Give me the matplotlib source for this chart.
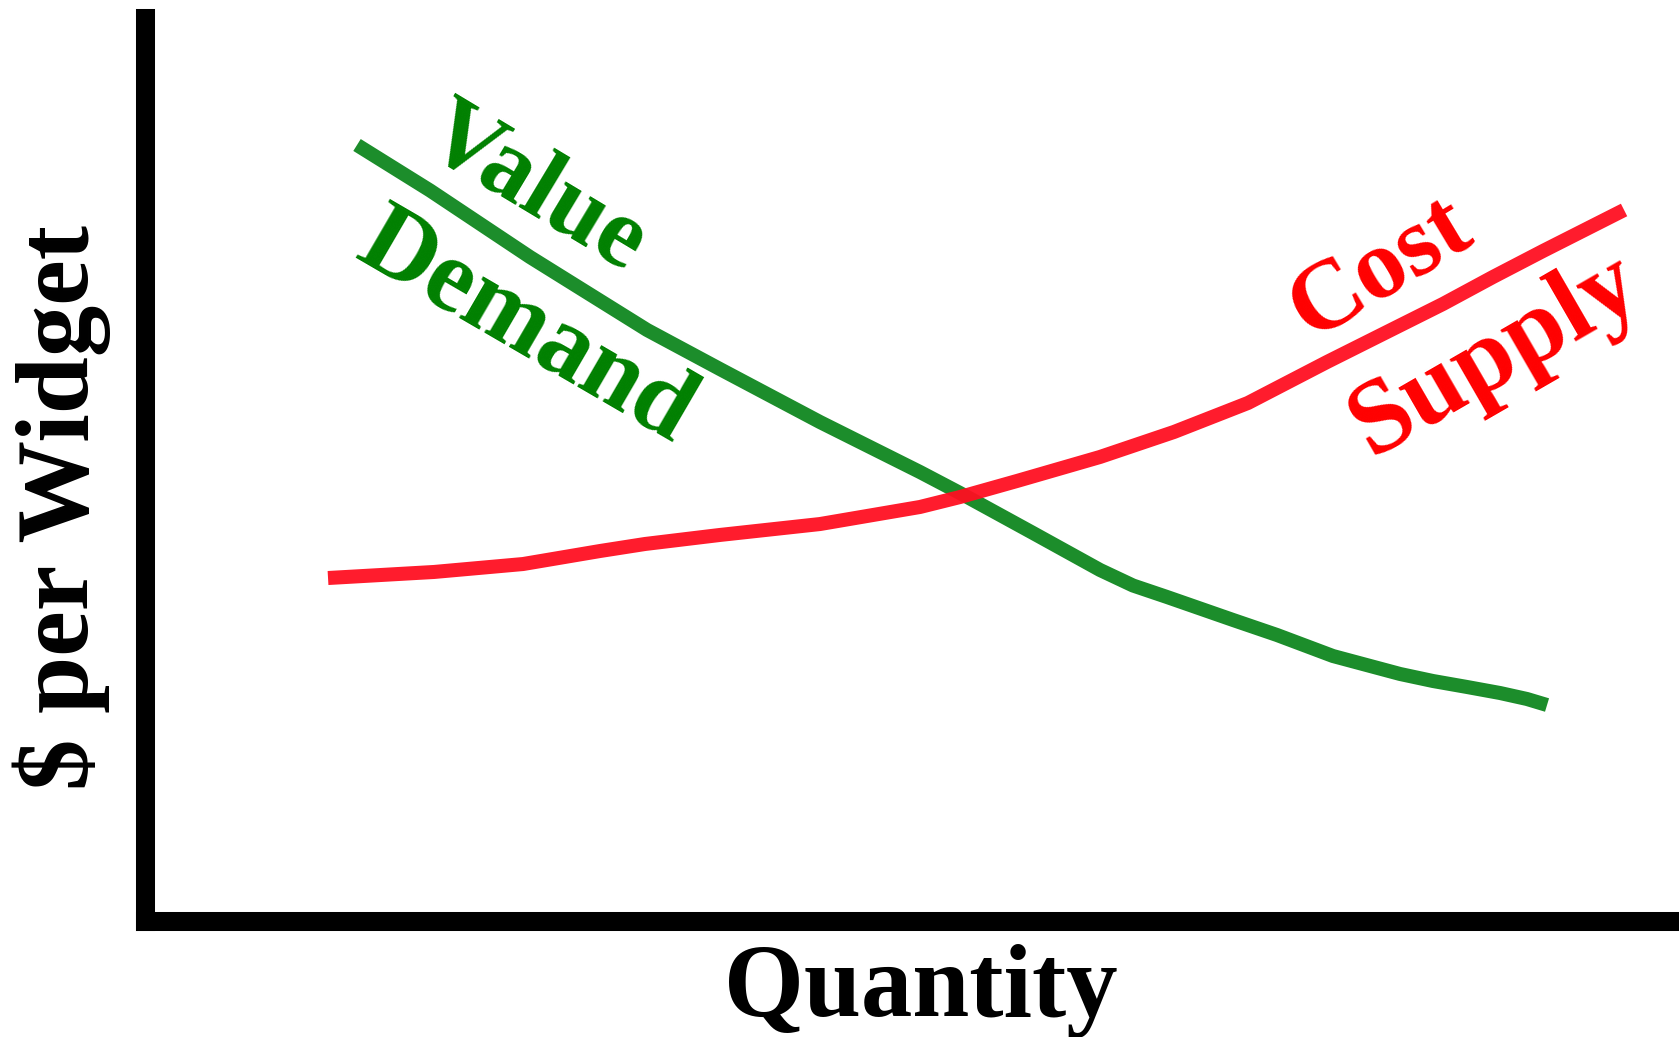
import matplotlib
matplotlib.use("Agg")
import matplotlib.pyplot as plt

# ---- data (axes units: 0-100 on both axes) ----
demand_x = [13.85, 18.61, 25.12, 32.75, 37.50, 44.02, 50.54, 53.14, 57.90, 62.27,
            64.42, 66.63, 70.94, 73.80, 77.45, 81.82, 83.97, 86.18, 88.34, 90.09, 91.40]
demand_y = [85.91, 80.87, 73.50, 65.42, 61.09, 55.22, 49.68, 47.36, 42.93, 38.83,
            37.11, 35.84, 33.29, 31.63, 29.30, 27.31, 26.53, 25.87, 25.20, 24.54, 23.87]

supply_x = [11.96, 18.87, 24.67, 29.68, 32.62, 37.50, 44.02, 50.54, 53.14, 56.86,
            62.27, 67.09, 71.91, 77.06, 81.49, 84.62, 87.88, 91.14, 96.42]
supply_y = [37.94, 38.61, 39.49, 40.93, 41.71, 42.71, 43.92, 45.81, 46.91, 48.69,
            51.35, 54.12, 57.33, 61.87, 65.64, 68.30, 71.29, 74.17, 78.71]

x_label = "Quantity"
y_label = "$ per Widget"
demand_labels = ["Value", "Demand"]
supply_labels = ["Cost", "Supply"]

FONT = "Liberation Serif"
W, H = 1679, 1037

fig = plt.figure(figsize=(W / 100, H / 100), dpi=100)
ax = fig.add_axes([144.5 / W, 1 - 920.5 / H, 1 - 144.5 / W, (920.5 - 17.8) / H])
ax.set_xlim(0, 100)
ax.set_ylim(0, 100)
ax.set_xticks([])
ax.set_yticks([])
for s in ("top", "right"):
    ax.spines[s].set_visible(False)
for s in ("left", "bottom"):
    ax.spines[s].set_linewidth(13.7)
    ax.spines[s].set_color("black")
    ax.spines[s].set_capstyle("projecting")

ax.plot(demand_x, demand_y, color="#0f871f", lw=10.1, alpha=0.95,
        solid_capstyle="butt", solid_joinstyle="round")
ax.plot(supply_x, supply_y, color="#ff0f21", lw=10.1, alpha=0.95,
        solid_capstyle="butt", solid_joinstyle="round")

tkw = dict(fontfamily=FONT, fontweight="bold", ha="center", va="baseline",
           rotation_mode="anchor")
ax.text(24.67, 78.71, demand_labels[0], color="#008000", fontsize=72, rotation=-31, **tkw)
ax.text(23.98, 63.16, demand_labels[1], color="#008000", fontsize=74, rotation=-30.2, **tkw)
ax.text(81.34, 69.81, supply_labels[0], color="#ff0000", fontsize=72, rotation=31, **tkw)
ax.text(88.84, 60.15, supply_labels[1], color="#ff0000", fontsize=76, rotation=30, **tkw)

fig.text(88 / W, 1 - 508 / H, y_label, rotation=90, fontsize=74, **tkw)
fig.text(921 / W, 1 - 1015.7 / H, x_label, fontsize=74, **tkw)

fig.savefig("out.png", dpi=100)
